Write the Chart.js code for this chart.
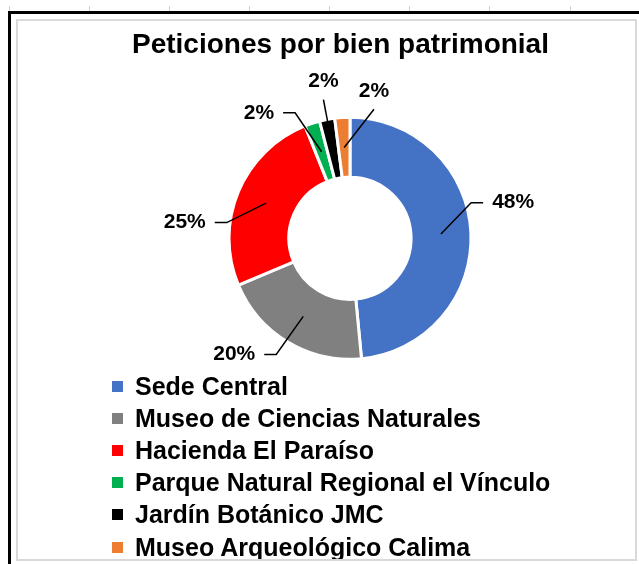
<!DOCTYPE html>
<html lang="es">
<head>
<meta charset="UTF-8">
<title>Peticiones por bien patrimonial</title>
<script src="https://cdn.jsdelivr.net/npm/chart.js"></script>
<style>
  html, body { margin: 0; padding: 0; background: #fff; }
  body { width: 639px; height: 564px; position: relative; overflow: hidden; font-family: "Liberation Sans", Arial, sans-serif; }
  .tick { position: absolute; top: 6px; width: 1px; height: 6px; background: #d0d0d0; }
  .frame-top { position: absolute; left: 8px; top: 11px; width: 631px; height: 3px; background: #000; }
  .frame-left { position: absolute; left: 8px; top: 11px; width: 3px; height: 553px; background: #000; }
  .chart-box { position: absolute; left: 16px; top: 19px; width: 621px; height: 542px; box-sizing: border-box; border: 2px solid #d9d9d9; overflow: hidden; background: #fff; }
  #chart { position: absolute; left: 0; top: 0; }
  #legend { position: absolute; left: 94px; top: 349px; margin: 0; padding: 0; list-style: none; }
  #legend li { display: flex; align-items: center; height: 32.2px; font: bold 25px "Liberation Sans", Arial, sans-serif; color: #000; white-space: nowrap; }
  #legend .box { width: 11px; height: 11px; margin-right: 12px; flex: none; }
</style>
</head>
<body>
  <div class="tick" style="left:9px"></div>
  <div class="tick" style="left:89px"></div>
  <div class="tick" style="left:169px"></div>
  <div class="tick" style="left:249px"></div>
  <div class="tick" style="left:329px"></div>
  <div class="tick" style="left:409px"></div>
  <div class="tick" style="left:489px"></div>
  <div class="tick" style="left:570px"></div>
  <div class="frame-top"></div>
  <div class="frame-left"></div>

  <div class="chart-box">
    <canvas id="chart" width="617" height="538"></canvas>
    <ul id="legend"></ul>
  </div>

<script>
  const labels = [
    'Sede Central',
    'Museo de Ciencias Naturales',
    'Hacienda El Paraíso',
    'Parque Natural Regional el Vínculo',
    'Jardín Botánico JMC',
    'Museo Arqueológico Calima'
  ];
  const percentages = [48, 20, 25, 2, 2, 2];
  const colors = ['#4472C4', '#808080', '#FF0000', '#00B050', '#000000', '#ED7D31'];

  // where each % label sits: angle shift from the slice middle (deg) and distance from centre (px)
  const labelShift = [-9.6, 14, -17.3, -17.8, 1.3, 12.9];
  const labelDist = [167, 164, 166, 155, 159, 149];
  const labelStyle = ['elbow', 'elbow', 'elbow', 'elbow', 'straight', 'straight'];

  const fontFamily = '"Liberation Sans", Arial, sans-serif';

  // Excel-like outside labels with leader lines
  const leaderLabels = {
    id: 'leaderLabels',
    afterDatasetsDraw(chart) {
      const ctx = chart.ctx;
      const meta = chart.getDatasetMeta(0);
      ctx.save();
      ctx.font = 'bold 21px ' + fontFamily;
      ctx.fillStyle = '#000';
      ctx.strokeStyle = '#000';
      ctx.lineWidth = 1.5;
      ctx.textBaseline = 'middle';
      ctx.textAlign = 'center';
      meta.data.forEach((arc, i) => {
        const p = arc.getProps(['x', 'y', 'startAngle', 'endAngle', 'innerRadius', 'outerRadius']);
        const mid = (p.startAngle + p.endAngle) / 2;
        const rMid = (p.innerRadius + p.outerRadius) / 2;
        const ax = p.x + Math.cos(mid) * rMid;
        const ay = p.y + Math.sin(mid) * rMid;
        const la = mid + labelShift[i] * Math.PI / 180;
        const lx = p.x + Math.cos(la) * labelDist[i];
        const ly = p.y + Math.sin(la) * labelDist[i];
        const text = percentages[i] + '%';
        const w = ctx.measureText(text).width;
        ctx.beginPath();
        if (labelStyle[i] === 'elbow') {
          const side = lx > p.x ? -1 : 1;
          const hx0 = lx + side * (w / 2 + 9);
          const hx1 = hx0 + side * 12;
          ctx.moveTo(hx0, ly);
          ctx.lineTo(hx1, ly);
          ctx.lineTo(ax, ay);
        } else {
          ctx.moveTo(lx, ly + 18);
          ctx.lineTo(ax, ay);
        }
        ctx.stroke();
        ctx.fillText(text, lx, ly);
      });
      ctx.restore();
    }
  };

  const chart = new Chart(document.getElementById('chart'), {
    type: 'doughnut',
    data: {
      labels: labels,
      datasets: [{
        data: percentages,
        backgroundColor: colors,
        borderColor: '#ffffff',
        borderWidth: 3,
        hoverOffset: 0
      }]
    },
    options: {
      responsive: false,
      animation: false,
      cutout: '50.5%',
      radius: 121,
      layout: { padding: { left: 114, right: 67, top: 0, bottom: 149 } },
      plugins: {
        legend: { display: false },
        tooltip: { enabled: false },
        title: {
          display: true,
          text: 'Peticiones por bien patrimonial',
          align: 'start',
          color: '#000',
          font: { family: fontFamily, size: 28, weight: 'bold' },
          padding: { top: 7, bottom: 5 }
        }
      }
    },
    plugins: [leaderLabels]
  });

  // legend built from the chart's own legend items
  const legendEl = document.getElementById('legend');
  chart.options.plugins.legend.labels.generateLabels(chart).forEach(item => {
    const li = document.createElement('li');
    const box = document.createElement('span');
    box.className = 'box';
    box.style.background = item.fillStyle;
    li.appendChild(box);
    li.appendChild(document.createTextNode(item.text));
    legendEl.appendChild(li);
  });
</script>
</body>
</html>
